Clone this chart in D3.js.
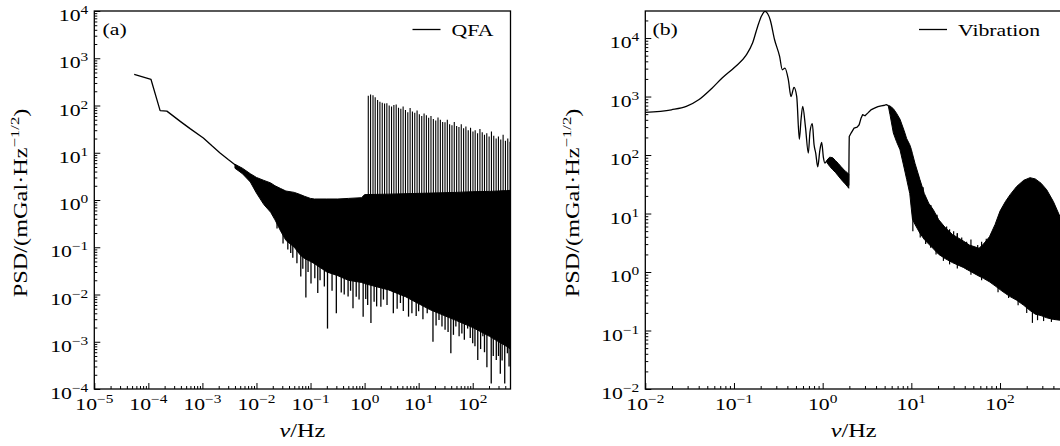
<!DOCTYPE html>
<html>
<head>
<meta charset="utf-8">
<script src="https://cdn.jsdelivr.net/npm/d3@7"></script>
<style>
  body { margin: 0; background: #fff; }
  svg { display: block; }
  text { font-family: "Liberation Serif", "Times New Roman", serif; fill: #000; }
</style>
</head>
<body>
<svg width="1060" height="446"></svg>
<script>
//---------------- data, panel (a): QFA ----------------
//clean low-frequency part [Hz, PSD]
const qfaLine = [
  [5.47e-5, 454], [1.12e-4, 356], [1.65e-4, 78], [2.2e-4, 76], [4e-4, 45], [6e-4, 32],
  [1.04e-3, 20.6], [1.5e-3, 14], [2.12e-3, 9.9], [3e-3, 7.2], [4.35e-3, 5.2]
];
//noise band [Hz, low, high]
const qfaBand = [
  [4.0e-3, 4.7, 5.7], [5.5e-3, 3.6, 4.7], [7.7e-3, 2.4, 3.6], [0.010, 1.4, 3.0],
  [0.0137, 0.8, 2.6], [0.0183, 0.55, 2.3], [0.022, 0.38, 2.0], [0.028, 0.22, 1.75],
  [0.035, 0.14, 1.55], [0.05, 0.10, 1.45], [0.065, 0.068, 1.3], [0.077, 0.058, 1.2],
  [0.10, 0.05, 1.08], [0.118, 0.045, 1.05], [0.20, 0.03, 1.05], [0.32, 0.025, 1.05],
  [0.50, 0.02, 1.08], [0.88, 0.018, 1.12], [1.0, 0.017, 1.3], [2.78, 0.0125, 1.33],
  [5.7, 0.009, 1.36], [16, 0.0048, 1.4], [50, 0.0028, 1.45], [100, 0.002, 1.5],
  [205, 0.0013, 1.52], [420, 0.0008, 1.58], [500, 0.0007, 1.6]
];
//downward spikes below the band [Hz, PSD]
const qfaDips = [
  [0.024, 0.25], [0.031, 0.12], [0.038, 0.09], [0.043, 0.076], [0.047, 0.06], [0.056, 0.046],
  [0.066, 0.024], [0.072, 0.035], [0.082, 0.0086], [0.09, 0.03], [0.102, 0.017], [0.12, 0.022],
  [0.136, 0.0107], [0.15, 0.02], [0.18, 0.0148], [0.206, 0.0019], [0.25, 0.012], [0.30, 0.004],
  [0.37, 0.011], [0.42, 0.01], [0.495, 0.0091], [0.55, 0.012], [0.61, 0.0051], [0.7, 0.009],
  [0.79, 0.0078], [0.94, 0.0034], [1.05, 0.008], [1.14, 0.006], [1.31, 0.0025], [1.5, 0.007],
  [1.67, 0.0056], [2.0, 0.0055], [2.23, 0.0078], [2.6, 0.006], [3.4, 0.004], [4.0, 0.005],
  [4.6, 0.0066], [5.2, 0.0045], [6.5, 0.0034], [7.5, 0.004], [9, 0.0035], [10, 0.0044],
  [12, 0.003], [14.4, 0.004], [18.4, 0.001], [21, 0.0022], [23.8, 0.0029], [27, 0.0021],
  [30.8, 0.0018], [35, 0.0016], [39.4, 0.00057], [44, 0.0014], [48.8, 0.0021], [56, 0.0013],
  [63, 0.0015], [70, 0.0011], [80.5, 0.0019], [90, 0.0012], [100, 0.00093], [110, 0.0008],
  [124, 0.00041], [140, 0.0007], [154, 0.0013], [165, 0.0006], [183, 0.00029], [220, 0.00013],
  [240, 0.0005], [273, 0.00041], [300, 0.0005], [324, 0.00021], [350, 0.0004], [391, 0.00013],
  [438, 0.00057], [470, 0.0003]
];
//comb of spikes above 1 Hz
const qfaCombFreq = [
  1.17, 1.29, 1.43, 1.57, 1.74, 1.92, 2.12, 2.34, 2.58, 2.85, 3.15, 3.48, 3.84, 4.24, 4.68, 5.16,
  5.70, 6.30, 6.95, 7.67, 8.47, 9.35, 10.3, 11.4, 12.6, 13.9, 15.3, 16.9, 18.7, 20.7, 22.8, 25.2,
  27.8, 30.7, 33.9, 37.4, 41.3, 45.6, 50.4, 55.6, 61.4, 67.8, 74.8, 82.6, 91.2, 101, 111, 123,
  136, 150, 165, 182, 201, 222, 245, 271, 299, 330, 365, 403, 445, 491
];
const qfaCombPeak = [
  160, 170, 165, 150, 130, 120, 115, 110, 112, 100, 95, 102, 105, 90, 85, 95,
  80, 72, 88, 75, 70, 78, 65, 60, 68, 62, 55, 60, 52, 48, 56, 50,
  45, 44, 50, 40, 38, 45, 37, 35, 40, 33, 36, 30, 34, 28, 30, 26,
  32, 27, 24, 26, 22, 28, 23, 20, 22, 19, 24, 18, 20, 17
];

//---------------- data, panel (b): vibration ----------------
const vibLine = [
  [0.01, 535], [0.0197, 594], [0.029, 677], [0.04, 880], [0.0565, 1390], [0.0735, 2070],
  [0.104, 3270], [0.136, 5000], [0.162, 8200], [0.185, 15800], [0.205, 24000], [0.224, 28600],
  [0.24, 26000], [0.256, 20600], [0.287, 9350], [0.327, 4850], [0.351, 2870], [0.376, 3070],
  [0.41, 1940], [0.44, 1000], [0.475, 1440], [0.51, 1000], [0.546, 186], [0.57, 400],
  [0.596, 675], [0.64, 300], [0.689, 108], [0.72, 250], [0.764, 343], [0.80, 150], [0.835, 108],
  [0.88, 63], [0.93, 120], [0.975, 164], [1.02, 90], [1.06, 73], [1.12, 80], [1.21, 89]
];
const vibNoise = [
  [1.12, 74, 82], [1.2, 64, 92], [1.3, 56, 90], [1.4, 50, 80], [1.5, 44, 72],
  [1.6, 39, 64], [1.7, 35, 58], [1.8, 32, 53], [1.9, 29, 50], [1.97, 27, 47]
];
const vibLine2 = [
  [1.97, 30], [1.985, 120], [1.995, 207], [2.1, 240], [2.26, 288], [2.45, 300], [2.58, 329],
  [2.7, 420], [2.82, 490], [3.0, 470], [3.22, 520], [3.5, 590], [3.84, 632], [4.2, 670],
  [4.57, 693], [5.0, 710], [5.27, 724], [5.5, 700]
];
const vibBand = [
  [5.5, 690, 700], [5.75, 489, 690], [6.27, 238, 620], [6.8, 170, 520], [7.45, 123, 410],
  [8.3, 60, 260], [8.87, 38, 190], [9.6, 22, 150], [10.0, 12, 125], [10.3, 8, 105], [11, 6.5, 72],
  [12.5, 4.6, 38], [14, 3.6, 22], [15.7, 3.0, 15], [17.7, 2.5, 11.6], [20.4, 2.0, 7.8],
  [24, 1.7, 5.8], [29, 1.45, 4.4], [38.5, 1.2, 3.4], [45, 1.05, 2.9], [58, 0.85, 2.55],
  [65, 0.78, 3.0], [76, 0.68, 4.0], [88, 0.58, 6.5], [100, 0.5, 11], [115, 0.43, 16],
  [130, 0.38, 21], [154, 0.33, 29], [185, 0.27, 37], [218, 0.22, 41], [250, 0.19, 39],
  [290, 0.18, 33], [336, 0.165, 25.5], [400, 0.155, 16], [474, 0.15, 8.9], [500, 0.15, 7.5]
];
const vibDips = [
  [10.4, 5.0], [12.6, 3.9], [14.5, 3.0], [16.5, 2.6], [19, 2.0], [23, 1.55], [27, 1.35],
  [33, 1.15], [47, 0.9], [62, 0.72], [95, 0.45], [125, 0.36], [160, 0.27], [200, 0.2],
  [232, 0.135], [265, 0.15], [310, 0.145], [380, 0.14]
];
const vibBumps = [
  [12, 45], [13.6, 28], [16.6, 14], [19.5, 9.5], [25, 6], [30, 5], [33, 4.6], [37, 3.9],
  [42, 3.3], [56, 2.9], [62, 3.3], [70, 3.7]
];

//tick decades
const aDecX = [-5, -4, -3, -2, -1, 0, 1, 2];
const aDecY = [-4, -3, -2, -1, 0, 1, 2, 3, 4];
const bDecX = [-2, -1, 0, 1, 2];
const bDecY = [-2, -1, 0, 1, 2, 3, 4];

//---------------- config ----------------
const SX = 1.28;       //horizontal glyph stretch to mimic the wide TeX font
const svg = d3.select('svg');
const minus = n => (n < 0 ? '\u2212' + (-n) : '' + n);

const panels = [
  { id: 'a', l: 94.3, r: 510.5, t: 11, b: 389, xDom: [1e-5, 500], yDom: [1e-4, 1e4],
    decX: aDecX, decY: aDecY, tag: '(a)', tagX: 102.5, legX: 412.5, name: 'QFA', ylabX: 27 },
  { id: 'b', l: 645.3, r: 1062, t: 11, b: 389, xDom: [1e-2, 500], yDom: [1e-2, 2.9e4],
    decX: bDecX, decY: bDecY, tag: '(b)', tagX: 652.5, legX: 919, name: 'Vibration', ylabX: 579 }
];

//text helper: parts = [{s, sup, it}] ; sup raises text
const addText = (g, x, y, parts, o = {}) => {
  const t = g.append('text')
    .attr('transform', `translate(${x},${y})${o.rot ? ' rotate(-90)' : ''} scale(${SX},1)`)
    .attr('text-anchor', o.anchor || 'start')
    .style('font-size', (o.size || 17) + 'px');
  let up = 0;
  parts.forEach(p => {
    const want = p.sup ? -(o.supDy || 7) : 0;
    t.append('tspan')
      .attr('dy', want - up)
      .style('font-size', p.sup ? (o.supSize || 12) + 'px' : null)
      .style('font-style', p.it ? 'italic' : null)
      .text(p.s);
    up = want;
  });
  return t;
};

//minor log ticks 2..9 inside the domain
const minorTicks = (decs, dom) => {
  const out = [];
  d3.range(decs[0] - 1, decs[decs.length - 1] + 1).forEach(d => {
    for (let m = 2; m <= 9; m++) {
      const v = m * Math.pow(10, d);
      if (v > dom[0] && v < dom[1]) out.push(v);
    }
  });
  return out;
};

panels.forEach(p => {
  const x = d3.scaleLog().domain(p.xDom).range([p.l, p.r]);
  const y = d3.scaleLog().domain(p.yDom).range([p.b, p.t]);
  const g = svg.append('g');

  g.append('clipPath').attr('id', 'clip' + p.id)
    .append('rect').attr('x', p.l).attr('y', p.t).attr('width', p.r - p.l).attr('height', p.b - p.t);
  const plot = g.append('g').attr('clip-path', `url(#clip${p.id})`);

  const line = d3.line().x(d => x(d[0])).y(d => y(d[1]));
  const band = d3.area().x(d => x(d[0])).y0(d => y(d[1])).y1(d => y(d[2]));

  const drawLine = (data, w = 1.3, curve = d3.curveLinear) => plot.append('path')
    .datum(data).attr('d', line.curve(curve))
    .attr('fill', 'none').attr('stroke', '#000').attr('stroke-width', w)
    .attr('stroke-linejoin', 'round');
  const drawBand = data => plot.append('path').datum(data).attr('d', band)
    .attr('fill', '#000').attr('stroke', '#000').attr('stroke-width', 1);
  const drawSpikes = (data, from, w) => plot.append('g').selectAll('line').data(data).enter()
    .append('line')
    .attr('x1', d => x(d[0])).attr('x2', d => x(d[0]))
    .attr('y1', d => y(from(d))).attr('y2', d => y(d[1]))
    .attr('stroke', '#000').attr('stroke-width', w);

  if (p.id === 'a') {
    drawLine(qfaLine);
    drawBand(qfaBand);
    drawSpikes(qfaDips, () => 0.5, 1.3);
    drawSpikes(qfaCombFreq.map((f, i) => [f, qfaCombPeak[i]]), () => 1.0, 1.1);
  } else {
    drawLine(vibLine, 1.3, d3.curveMonotoneX);
    drawBand(vibNoise);
    drawLine(vibLine2);
    drawBand(vibBand);
    drawSpikes(vibDips, d => d[1] * 4, 1.2);
    drawSpikes(vibBumps, d => d[1] / 3, 1.2);
  }

  //ticks, inward, left and bottom only
  const majX = p.decX.map(d => Math.pow(10, d));
  const majY = p.decY.map(d => Math.pow(10, d));
  const fix = s => s.call(a => a.select('.domain').remove())
    .call(a => a.selectAll('line').attr('stroke', '#000').attr('stroke-width', 1));

  g.append('g').attr('transform', `translate(0,${p.b})`)
    .call(d3.axisBottom(x).tickValues(majX).tickSizeInner(-6).tickSizeOuter(0).tickFormat('')).call(fix);
  g.append('g').attr('transform', `translate(0,${p.b})`)
    .call(d3.axisBottom(x).tickValues(minorTicks(p.decX, p.xDom)).tickSizeInner(-3).tickSizeOuter(0).tickFormat('')).call(fix);
  g.append('g').attr('transform', `translate(${p.l},0)`)
    .call(d3.axisLeft(y).tickValues(majY).tickSizeInner(-6).tickSizeOuter(0).tickFormat('')).call(fix);
  g.append('g').attr('transform', `translate(${p.l},0)`)
    .call(d3.axisLeft(y).tickValues(minorTicks(p.decY, p.yDom)).tickSizeInner(-3).tickSizeOuter(0).tickFormat('')).call(fix);

  //frame
  g.append('rect').attr('x', p.l).attr('y', p.t).attr('width', p.r - p.l).attr('height', p.b - p.t)
    .attr('fill', 'none').attr('stroke', '#000').attr('stroke-width', 1.3);

  //tick labels
  p.decX.forEach(d => addText(g, x(Math.pow(10, d)), p.b + 21, [{ s: '10' }, { s: minus(d), sup: true }], { anchor: 'middle' }));
  p.decY.forEach(d => addText(g, p.l - 6, y(Math.pow(10, d)) + 10, [{ s: '10' }, { s: minus(d), sup: true }], { anchor: 'end' }));

  //axis titles
  addText(g, (p.l + p.r) / 2, 437, [{ s: '\u03bd', it: true }, { s: '/Hz' }], { anchor: 'middle', size: 19 });
  addText(g, p.ylabX, (p.t + p.b) / 2 + 3,
    [{ s: 'PSD/(mGal\u00b7Hz' }, { s: '\u22121/2', sup: true }, { s: ')' }],
    { anchor: 'middle', size: 19, rot: true, supSize: 13, supDy: 8 });

  //panel tag and legend
  addText(g, p.tagX, 35, [{ s: p.tag }]);
  g.append('line').attr('x1', p.legX).attr('x2', p.legX + 28).attr('y1', 29.5).attr('y2', 29.5)
    .attr('stroke', '#000').attr('stroke-width', 1.3);
  addText(g, p.legX + 39, 36, [{ s: p.name }]);
});
</script>
</body>
</html>
